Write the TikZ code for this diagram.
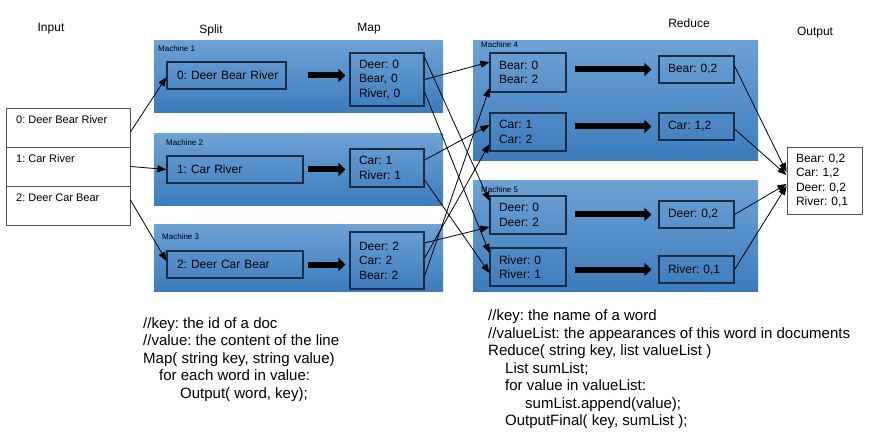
\documentclass[tikz,border=0pt]{standalone}
\usepackage{fontspec}
\setmainfont{Liberation Sans}
\usetikzlibrary{arrows.meta}
\definecolor{paneltop}{RGB}{108,162,213}
\definecolor{panelmid}{RGB}{76,145,210}
\definecolor{panelbot}{RGB}{60,124,188}
\definecolor{boxline}{RGB}{28,44,66}
\definecolor{tableline}{RGB}{85,85,85}
\begin{document}
\frenchspacing
\begin{tikzpicture}[x=1pt,y=-1pt,
  every node/.append style={execute at begin node=\frenchspacing},
  panel/.style={top color=paneltop, middle color=panelmid, bottom color=panelbot, draw=none, inner sep=0pt},
  mlabel/.style={anchor=west, inner sep=0pt, font=\fontsize{8}{9}\selectfont},
  head/.style={inner sep=0pt, font=\fontsize{12}{14}\selectfont},
  bx/.style={draw=boxline, line width=1.1pt, inner xsep=9pt, inner ysep=0pt, align=left, font=\fontsize{12}{14.5}\selectfont},
  inrow/.style={draw=tableline, line width=0.9pt, fill=white, inner sep=0pt, minimum width=124pt, minimum height=39pt},
  intext/.style={anchor=west, inner sep=0pt, font=\fontsize{11}{13}\selectfont},
  outbox/.style={draw=tableline, line width=0.9pt, fill=white, inner xsep=9pt, inner ysep=0pt, align=left, font=\fontsize{12}{14.3}\selectfont},
  thinarrow/.style={draw=black, line width=0.8pt, -{Triangle[length=9pt,width=7pt]}},
  fat/.style={draw=black, line width=6pt, -{Triangle[length=7pt,width=13pt]}},
  code/.style={anchor=north west, inner sep=0pt, align=left, font=\fontsize{15}{17.5}\selectfont}
]
\useasboundingbox (0,0) rectangle (896,438);

% headings
\node[head] (hInput) at (51,29) {Input};
\node[head] (hSplit) at (211,30) {Split};
\node[head] (hMap) at (369,29) {Map};
\node[head] (hReduce) at (689,23) {Reduce};
\node[head] (hOutput) at (815,33) {Output};

% panels
\node[panel, minimum width=289pt, minimum height=72pt] (mach1) at (298.5,77) {};
\node[panel, minimum width=289pt, minimum height=72pt] (mach2) at (298.5,170) {};
\node[panel, minimum width=289pt, minimum height=66pt] (mach3) at (298.5,258) {};
\node[panel, minimum width=285pt, minimum height=120pt] (mach4) at (615.5,101) {};
\node[panel, minimum width=285pt, minimum height=110pt] (mach5) at (615.5,236) {};
\node[mlabel] (mach1l) at (158,49) {Machine 1};
\node[mlabel] (mach2l) at (166,143) {Machine 2};
\node[mlabel] (mach3l) at (162,237) {Machine 3};
\node[mlabel] (mach4l) at (481,45) {Machine 4};
\node[mlabel] (mach5l) at (481,190) {Machine 5};

% input table
\node[inrow] (in0) at (68,127.5) {};
\node[inrow] (in1) at (68,166.5) {};
\node[inrow] (in2) at (68,205.5) {};
\node[intext] (in0t) at (16,120) {0: Deer Bear River};
\node[intext] (in1t) at (16,159) {1: Car River};
\node[intext] (in2t) at (16,198) {2: Deer Car Bear};

% split boxes
\node[bx, text width=101pt, minimum height=27pt] (s1) at (226.5,75.5) {\mbox{\hspace*{1pt}0: Deer Bear River}};
\node[bx, text width=118pt, minimum height=27pt] (s2) at (235,169.5) {\mbox{\hspace*{1pt}1: Car River}};
\node[bx, text width=118pt, minimum height=27pt] (s3) at (235,264.5) {\mbox{\hspace*{1pt}2: Deer Car Bear}};

% map boxes
\node[bx, text width=56pt, minimum height=53pt] (m1) at (387,79.5) {Deer: 0\\Bear, 0\\River, 0};
\node[bx, text width=56pt, minimum height=38pt] (m2) at (387,168) {Car: 1\\River: 1};
\node[bx, text width=56pt, minimum height=57pt] (m3) at (387,260.5) {Deer: 2\\Car: 2\\Bear: 2};

% reduce input boxes
\node[bx, text width=58pt, minimum height=39pt] (r4a) at (528,72.5) {Bear: 0\\Bear: 2};
\node[bx, text width=58pt, minimum height=38pt] (r4b) at (528,132) {Car: 1\\Car: 2};
\node[bx, text width=58pt, minimum height=38pt] (r5a) at (528,215) {Deer: 0\\Deer: 2};
\node[bx, text width=58pt, minimum height=38pt] (r5b) at (528,267) {River: 0\\River: 1};

% reduce output boxes
\node[bx, text width=57pt, minimum height=27pt] (o4a) at (696.5,69.5) {Bear: 0,2};
\node[bx, text width=57pt, minimum height=27pt] (o4b) at (696.5,126.5) {Car: 1,2};
\node[bx, text width=57pt, minimum height=27pt] (o5a) at (696.5,214.5) {Deer: 0,2};
\node[bx, text width=57pt, minimum height=27pt] (o5b) at (696.5,269.5) {River: 0,1};

% final output
\node[outbox, text width=57pt, minimum height=67pt] (out) at (824.5,180.5) {Bear: 0,2\\Car: 1,2\\Deer: 0,2\\River: 0,1};

% thick arrows
\draw[fat, shorten <=21pt, shorten >=4pt] (s1.east) -- (s1.east -| m1.west);
\draw[fat, shorten <=4pt, shorten >=4pt] (s2.east) -- (s2.east -| m2.west);
\draw[fat, shorten <=4pt, shorten >=4pt] (s3.east) -- (s3.east -| m3.west);
\draw[fat, shorten <=8pt, shorten >=7pt] (o4a.west -| r4a.east) -- (o4a.west);
\draw[fat, shorten <=8pt, shorten >=7pt] (o4b.west -| r4b.east) -- (o4b.west);
\draw[fat, shorten <=8pt, shorten >=7pt] (o5a.west -| r5a.east) -- (o5a.west);
\draw[fat, shorten <=8pt, shorten >=7pt] (o5b.west -| r5b.east) -- (o5b.west);

% input -> split
\draw[thinarrow] ([yshift=-4.5pt]in0.east) -- ([yshift=-1.5pt]s1.west);
\draw[thinarrow] (in1.east) -- (s2.west);
\draw[thinarrow] ([yshift=5.5pt]in2.east) -- ([yshift=3.5pt]s3.west);

% map -> reduce
\draw[thinarrow] (m1.east) -- ([yshift=10.5pt]r4a.west);
\draw[thinarrow] ([yshift=22pt]m1.east) -- ([yshift=14pt]r5a.west);
\draw[thinarrow] ([yshift=-12.5pt]m1.east) -- ([yshift=14pt]r5b.west);
\draw[thinarrow] ([yshift=8pt]m2.east) -- ([yshift=7pt]r4b.west);
\draw[thinarrow] ([yshift=-12pt]m2.east) -- ([yshift=-6pt]r5b.west);
\draw[thinarrow] ([yshift=17.5pt]m3.east) -- ([yshift=-12pt]r5a.west);
\draw[thinarrow] ([yshift=2.5pt]m3.east) -- ([yshift=-12pt]r4b.west);
\draw[thinarrow] ([yshift=-15.5pt]m3.east) -- ([yshift=-15.5pt]r4a.west);

% reduce -> output
\draw[thinarrow] ([yshift=3.5pt]o4a.east) -- ([yshift=8.5pt]out.west);
\draw[thinarrow] ([yshift=-2.5pt]o4b.east) -- ([yshift=5.5pt]out.west);
\draw[thinarrow] (o5a.east) -- ([yshift=-3.5pt]out.west);
\draw[thinarrow] (o5b.east) -- ([yshift=-5.5pt]out.west);

% code
\node[code] (mapcode) at (143,317) {//key: the id of a doc\\//value: the content of the line\\Map( string key, string value)\\\hspace*{16pt}for each word in value:\\\hspace*{37pt}Output( word, key);};
\node[code] (redcode) at (488,309.5) {//key: the name of a word\\//valueList: the appearances of this word in documents\\Reduce( string key, list valueList )\\\hspace*{17pt}List sumList;\\\hspace*{17pt}for value in valueList:\\\hspace*{37pt}sumList.append(value);\\\hspace*{17pt}OutputFinal( key, sumList );};
\end{tikzpicture}
\end{document}
